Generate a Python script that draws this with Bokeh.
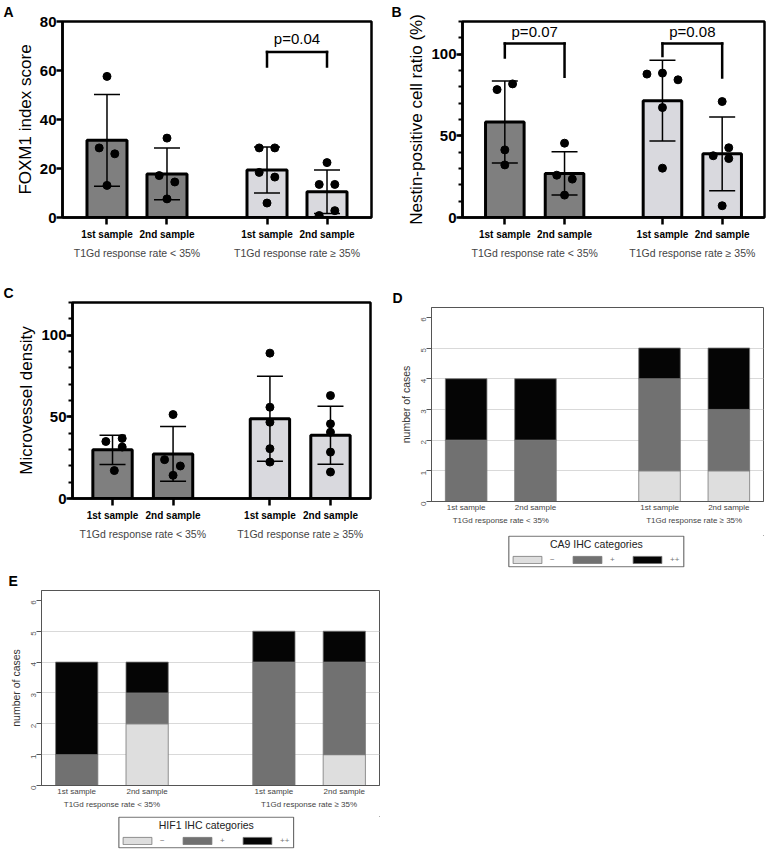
import math
from bokeh.plotting import figure
from bokeh.layouts import column, row
from bokeh.core.properties import value
from bokeh.models import (ColumnDataSource, FactorRange, Range1d, FixedTicker,
                          Whisker, TeeHead, Legend, LegendItem, BoxAnnotation)
from bokeh.embed import file_html
from bokeh.resources import INLINE

FONT = "Liberation Sans"

# ---------------- data ----------------
groups = ["T1Gd response rate < 35%", "T1Gd response rate \u2265 35%"]
samples = ["1st sample", "2nd sample"]
bar_colors = ["#7f7f7f", "#7f7f7f", "#d9d9de", "#d9d9de"]

# Panel A: FOXM1 index score (mean, SD, individual cases)
foxm1_mean = [31.5, 17.8, 19.4, 10.5]
foxm1_sd = [18.7, 10.6, 9.4, 8.9]
foxm1_points = [[57.6, 28.4, 26.0, 13.1], [32.4, 17.1, 14.5, 7.6],
                [28.4, 28.4, 18.4, 16.5, 5.9], [22.4, 13.5, 13.5, 2.8, 0.8]]
foxm1_jitter = [[0, -0.13, 0.13, 0], [0, -0.13, 0.13, 0],
                [-0.13, 0.13, -0.13, 0.13, 0], [0, -0.13, 0.13, 0.13, -0.13]]
foxm1_pairs = [(2, 3)]
foxm1_pvalues = ["p=0.04"]
foxm1_brackets = [(61.6, 67.6, 61.6, 73.2)]   # left leg end, bar, right leg end, label

# Panel B: Nestin-positive cell ratio (%)
nestin_mean = [58.5, 27.0, 71.5, 39.0]
nestin_sd = [25.1, 13.3, 24.7, 22.6]
nestin_points = [[78.3, 81.8, 41.4, 32.2], [45.5, 25.9, 23.5, 13.7],
                 [87.8, 88.4, 84.3, 67.3, 30.2], [71.0, 42.7, 37.8, 36.1, 7.2]]
nestin_jitter = [[-0.13, 0.13, 0, 0], [0, -0.13, 0.13, 0],
                 [-0.26, 0, 0.26, 0, 0], [0, 0.11, -0.15, 0.11, 0]]
nestin_pairs = [(0, 1), (2, 3)]
nestin_pvalues = ["p=0.07", "p=0.08"]
nestin_brackets = [(97.9, 106.5, 86.1, 113.8), (98.9, 106.5, 85.7, 113.8)]

# Panel C: Microvessel density
mvd_mean = [29.8, 27.3, 48.8, 38.7]
mvd_sd = [9.0, 16.8, 26.0, 17.8]
mvd_points = [[34.9, 36.8, 31.5, 17.1], [51.4, 23.8, 19.9, 14.2],
              [89.0, 55.9, 46.7, 30.5, 22.3], [63.0, 45.7, 40.6, 28.4, 16.2]]
mvd_jitter = [[-0.11, 0.16, 0.16, 0.03], [0, -0.14, 0.12, 0],
              [0, 0, 0, 0, 0], [0, 0, 0, 0, 0]]

# Panels D and E: IHC categories (number of cases)
ihc_levels = ["\u2212", "+", "++"]
ihc_colors = ["#dedede", "#717171", "#050505"]
ca9_neg = [0, 0, 1, 1]
ca9_pos = [2, 2, 3, 2]
ca9_pp = [2, 2, 1, 2]
hif1_neg = [0, 2, 0, 1]
hif1_pos = [1, 1, 4, 3]
hif1_pp = [3, 1, 1, 1]

factors = [(g, s) for g in groups for s in samples]


def panel_letter(p, text, offset):
    p.title.text = text
    p.title.align = "left"
    p.title.vertical_align = "top"
    p.title.offset = offset
    p.title.text_font = FONT
    p.title.text_font_size = "14px"
    p.title.text_font_style = "bold"
    p.title.text_color = "black"
    p.title.standoff = 0


def dot_bar_panel(w, h, borders, ymax, major, minor, ylabel, mean, sd, pts, jit,
                  pairs, pvals, brackets, gp, rp, bw, tag, tag_off):
    left, right, top, bottom = borders
    xr = FactorRange(*factors, group_padding=gp, range_padding=rp)
    p = figure(width=w, height=h, x_range=xr, y_range=Range1d(0, ymax),
               output_backend="svg", toolbar_location=None,
               min_border_left=left, min_border_right=right,
               min_border_top=top, min_border_bottom=bottom)
    src = ColumnDataSource(dict(x=factors, top=mean,
                                upper=[m + s for m, s in zip(mean, sd)],
                                lower=[m - s for m, s in zip(mean, sd)],
                                color=bar_colors))
    p.vbar(x="x", top="top", width=bw, source=src, fill_color="color",
           line_color="black", line_width=3)
    wk = Whisker(base="x", upper="upper", lower="lower", source=src,
                 line_color="black", line_width=1.5, level="glyph",
                 upper_head=TeeHead(size=26, line_color="black", line_width=1.5),
                 lower_head=TeeHead(size=26, line_color="black", line_width=1.5))
    p.add_layout(wk)
    xs, ys = [], []
    for f, vals, offs in zip(factors, pts, jit):
        for v, o in zip(vals, offs):
            xs.append((f[0], f[1], o))
            ys.append(v)
    p.scatter(x=xs, y=ys, size=8, color="black")
    if pairs:
        bx0, by0, bx1, by1, tx, ty = [], [], [], [], [], []
        for (i, j), (lb, tp, rb, ly) in zip(pairs, brackets):
            fi, fj = factors[i], factors[j]
            bx0 += [fi, fi, fj]
            by0 += [lb, tp, tp]
            bx1 += [fi, fj, fj]
            by1 += [tp, tp, rb]
            tx.append((fi[0], fi[1], 0.5))
            ty.append(ly)
        p.segment(x0=bx0, y0=by0, x1=bx1, y1=by1, line_color="black",
                  line_width=2.5, line_cap="square")
        p.text(x=tx, y=ty, text=pvals, text_align="center", text_baseline="middle",
               text_font_size="15px", text_font=value(FONT), text_color="black")
    p.xgrid.visible = False
    p.ygrid.visible = False
    p.outline_line_color = "black"
    p.outline_line_width = 2.5
    p.outline_line_alpha = 1
    xa = p.xaxis[0]
    xa.axis_line_width = 2.5
    xa.major_tick_out = 7
    xa.major_tick_in = 0
    xa.major_tick_line_width = 2.5
    xa.major_label_text_font = FONT
    xa.major_label_text_font_size = "10px"
    xa.major_label_text_font_style = "bold"
    xa.major_label_text_color = "black"
    xa.major_label_standoff = 4
    xa.group_text_font = FONT
    xa.group_text_font_size = "10.5px"
    xa.group_text_font_style = "normal"
    xa.group_text_color = "#444444"
    xa.separator_line_alpha = 0
    ya = p.yaxis[0]
    ya.ticker = FixedTicker(ticks=major, minor_ticks=minor)
    ya.axis_line_width = 2.5
    ya.major_tick_out = 6
    ya.major_tick_in = 0
    ya.major_tick_line_width = 2.5
    ya.minor_tick_out = 4
    ya.minor_tick_in = 0
    ya.minor_tick_line_width = 2
    ya.major_label_text_font = FONT
    ya.major_label_text_font_size = "15px"
    ya.major_label_text_font_style = "bold"
    ya.major_label_text_color = "black"
    ya.major_label_standoff = 0
    ya.axis_label = ylabel
    ya.axis_label_text_font = FONT
    ya.axis_label_text_font_size = "17px"
    ya.axis_label_text_font_style = "normal"
    ya.axis_label_text_color = "black"
    ya.axis_label_standoff = 2
    panel_letter(p, tag, tag_off)
    return p


def stack_panel(w, h, borders, neg, pos, pp, gp, tag, tag_off):
    left, right, top, bottom = borders
    xr = FactorRange(*factors, group_padding=gp, range_padding=0.0)
    p = figure(width=w, height=h, x_range=xr, y_range=Range1d(0, 6.32),
               output_backend="svg", toolbar_location=None,
               min_border_left=left, min_border_right=right,
               min_border_top=top, min_border_bottom=bottom)
    src = ColumnDataSource(dict(x=factors, neg=neg, pos=pos, pp=pp))
    p.vbar_stack(["neg", "pos", "pp"], x="x", width=0.6, source=src,
                 fill_color=ihc_colors, line_color="#777777", line_width=0.8)
    p.xgrid.visible = False
    p.ygrid.ticker = FixedTicker(ticks=[1, 2, 3, 4, 5])
    p.ygrid.grid_line_color = "#d9d9d9"
    p.ygrid.grid_line_width = 1
    p.outline_line_color = "#555555"
    p.outline_line_width = 1
    p.outline_line_alpha = 1
    xa = p.xaxis[0]
    xa.axis_line_color = "#555555"
    xa.major_tick_out = 0
    xa.major_tick_in = 0
    xa.major_label_text_font = FONT
    xa.major_label_text_font_size = "8px"
    xa.major_label_text_color = "#444444"
    xa.major_label_standoff = 1
    xa.group_text_font = FONT
    xa.group_text_font_size = "8px"
    xa.group_text_font_style = "normal"
    xa.group_text_color = "#444444"
    xa.separator_line_alpha = 0
    ya = p.yaxis[0]
    ya.ticker = FixedTicker(ticks=[0, 1, 2, 3, 4, 5, 6])
    ya.axis_line_color = "#555555"
    ya.major_tick_out = 5
    ya.major_tick_in = 0
    ya.major_tick_line_color = "#555555"
    ya.minor_tick_line_color = None
    ya.major_label_orientation = math.pi / 2
    ya.major_label_text_font = FONT
    ya.major_label_text_font_size = "8px"
    ya.major_label_text_color = "#555555"
    ya.major_label_standoff = 3
    ya.axis_label = "number of cases"
    ya.axis_label_text_font = FONT
    ya.axis_label_text_font_size = "10.5px"
    ya.axis_label_text_font_style = "normal"
    ya.axis_label_text_color = "#333333"
    ya.axis_label_standoff = 4
    panel_letter(p, tag, tag_off)
    return p


def legend_panel(w, h, borders, box_lr, loc, title):
    left, right, top, bottom = borders
    p = figure(width=w, height=h, x_range=Range1d(0, 1), y_range=Range1d(0, 1),
               x_axis_type=None, y_axis_type=None, output_backend="svg",
               toolbar_location=None, min_border_left=left, min_border_right=right,
               min_border_top=top, min_border_bottom=bottom)
    p.outline_line_color = None
    p.xgrid.visible = False
    p.ygrid.visible = False
    bl, br = box_lr
    p.add_layout(BoxAnnotation(left=bl, right=br, bottom=0.02, top=0.98,
                               fill_alpha=0, line_color="#555555", line_width=1,
                               line_alpha=1))
    # legend-key renderers (kept outside the visible range; only their keys show)
    rs = [p.vbar(x=[5], bottom=[5], top=[6], width=0.1, fill_color=c,
                 line_color="#777777", line_width=0.8) for c in ihc_colors]
    p.text(x=[(bl + br) / 2], y=[0.72], text=[title], text_align="center",
           text_baseline="middle", text_font=value(FONT), text_font_size="10.5px",
           text_color="#222222")
    items = [LegendItem(label=l, renderers=[r]) for l, r in zip(ihc_levels, rs)]
    lg = Legend(items=items, orientation="horizontal", location=loc,
                label_text_font=FONT, label_text_font_size="8px",
                label_text_color="#777777", glyph_width=36, glyph_height=9,
                label_width=8, label_height=9, label_standoff=5, spacing=11,
                padding=2, margin=0, border_line_color=None,
                background_fill_alpha=0)
    p.add_layout(lg)
    return p


pA = dot_bar_panel(385, 284, (62, 14, 17, 66), 80, [0, 20, 40, 60, 80], [],
                   "FOXM1 index score", foxm1_mean, foxm1_sd, foxm1_points,
                   foxm1_jitter, foxm1_pairs, foxm1_pvalues, foxm1_brackets,
                   0.667, 0.1035, 0.667, "A", -59)
pB = dot_bar_panel(389, 284, (77, 10, 21, 67), 120, [0, 50, 100],
                   list(range(0, 121, 10)), "Nestin-positive cell ratio (%)",
                   nestin_mean, nestin_sd, nestin_points, nestin_jitter,
                   nestin_pairs, nestin_pvalues, nestin_brackets,
                   0.64, 0.09, 0.646, "B", -71)
pC = dot_bar_panel(385, 284, (72, 15, 18, 70), 120, [0, 50, 100],
                   list(range(0, 121, 10)), "Microvessel density",
                   mvd_mean, mvd_sd, mvd_points, mvd_jitter, [], [], [],
                   0.6, 0.07, 0.65, "C", -69)
pD = stack_panel(389, 247, (46, 11, 23, 30), ca9_neg, ca9_pos, ca9_pp,
                 0.79, "D", -39)
lD = legend_panel(389, 37, (46, 11, 4, 1), (0.233, 0.760), (78, 3),
                  "CA9 IHC categories")
pE = stack_panel(385, 247, (41, 6, 22, 30), hif1_neg, hif1_pos, hif1_pp,
                 0.8, "E", -33)
lE = legend_panel(385, 38, (41, 6, 1, 5), (0.229, 0.746), (78, 3),
                  "HIF1 IHC categories")

layout = column(row(pA, pB), row(pC, column(pD, lD)), column(pE, lE))

with open("out.html", "w") as f:
    f.write(file_html(layout, INLINE))
